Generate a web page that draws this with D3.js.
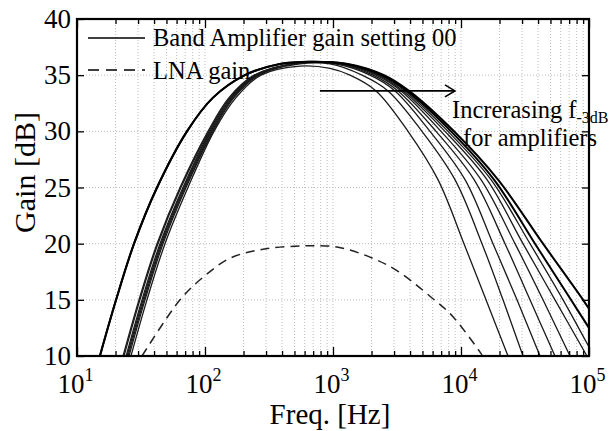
<!DOCTYPE html>
<html>
<head>
<meta charset="utf-8">
<script src="https://cdn.jsdelivr.net/npm/d3@7"></script>
<style>
body { margin: 0; background: #fff; }
svg { font-family: "Liberation Serif", "Times New Roman", serif; }
.grid line { stroke: #bdbdbd; stroke-width: 1; stroke-dasharray: 1,2; }
.axis path { display: none; }
.axis line { stroke: #000; stroke-width: 1.3; }
.axis text { font-family: "Liberation Serif", "Times New Roman", serif; fill: #000; }
.amp { fill: none; stroke: #1a1a1a; stroke-width: 1.3; }
.amp-wide { fill: none; stroke: #000; stroke-width: 2; }
.lna { fill: none; stroke: #222; stroke-width: 1.5; stroke-dasharray: 9,6; }
</style>
</head>
<body>
<svg width="609" height="431"></svg>
<script>
var yTicks = [10, 15, 20, 25, 30, 35, 40];
var xDecades = [10, 100, 1000, 10000, 100000];

// band amplifier curves, [Hz, dB]
var ampWide1 = [[15.1,10],[20.2,15],[27.9,20],[42.2,25],[72.3,30],[115.5,33],[205,35],[385,36],[661,36.2],[1310,36],[2503,35],[3925,33.6],[8815,30],[19450,25.7],[43720,20],[89800,15],[100000,14.2]];
var ampWide2 = [[15.1,10],[20.2,15],[27.9,20],[42.2,25],[72.3,30],[115.5,33],[205,35],[385,36],[661,36.2],[1264,36],[2415,35],[3785,33.6],[8360,30],[18100,25.7],[37860,20],[72300,15],[100000,12.5]];
var amp1 = [[26.4,10],[35.2,15],[48.7,20],[73.6,25],[117.6,30],[174.6,33],[273.8,35],[552,35.8],[948,35.6],[1358,35],[2168,33.6],[3855,30],[6610,25.7],[10550,20],[15680,15],[23290,10]];
var amp2 = [[25.5,10],[34.0,15],[47.0,20],[71.1,25],[115.5,30],[168.5,33],[264.1,35],[552,36],[948,36],[1686,35],[2690,33.6],[4955,30],[8970,25.7],[14590,20],[21290,15],[30510,10]];
var amp3 = [[25.0,10],[33.4,15],[46.1,20],[69.8,25],[113.5,30],[165.5,33],[259.4,35],[552,36.1],[1040,36],[1946,35],[3050,33.6],[5725,30],[10750,25.7],[17780,20],[27380,15],[41430,10]];
var amp4 = [[24.6,10],[32.8,15],[45.3,20],[68.5,25],[111.4,30],[162.5,33],[254.8,35],[552,36.1],[1094,36],[2053,35],[3220,33.6],[6380,30],[12650,25.7],[22070,20],[34590,15],[54230,10]];
var amp5 = [[24.2,10],[32.2,15],[44.5,20],[67.3,25],[109.4,30],[159.6,33],[250.3,35],[552,36.1],[1135,36],[2168,35],[3400,33.6],[6980,30],[14330,25.7],[26420,20],[43720,15],[71080,10]];
var amp6 = [[23.3,10],[31.0,15],[42.9,20],[64.9,25],[107.5,30],[156.8,33],[245.9,35],[552,36.1],[1175,36],[2249,35],[3525,33.6],[7500,30],[15960,25.7],[30510,20],[54230,15],[96390,10]];
var amp7 = [[22.9,10],[30.5,15],[42.2,20],[63.8,25],[105.5,30],[154.0,33],[241.5,35],[552,36.1],[1219,36],[2330,35],[3650,33.6],[7915,30],[17150,25.7],[34590,20],[62700,15],[100000,10.8]];

// LNA gain, [Hz, dB]
var lnaGain = [[32.2,10],[63.8,15],[96.4,17],[156.8,18.7],[284,19.5],[583,19.8],[1075,19.7],[1946,18.8],[3162,17.6],[6040,15.1],[8660,13.5],[14590,10.1]];

// arrow annotation (Hz, dB)
var arrowFrom = 790, arrowTo = 8970, arrowGain = 33.6;

var svg = d3.select("svg"),
    margin = {top: 19, right: 20, bottom: 75, left: 77},
    width = +svg.attr("width") - margin.left - margin.right,
    height = +svg.attr("height") - margin.top - margin.bottom;

var x = d3.scaleLog().domain([10, 100000]).range([0, width]),
    y = d3.scaleLinear().domain([10, 40]).range([height, 0]);

var g = svg.append("g")
    .attr("transform", "translate(" + margin.left + "," + margin.top + ")");

var allTicks = x.ticks();
var minorTicks = allTicks.filter(function(d){ return xDecades.indexOf(d) < 0; });

// grid
g.append("g").attr("class", "grid")
  .selectAll("line").data(allTicks).enter().append("line")
    .attr("x1", function(d){ return x(d); })
    .attr("x2", function(d){ return x(d); })
    .attr("y1", 0).attr("y2", height);
g.append("g").attr("class", "grid")
  .selectAll("line").data(yTicks.slice(1, -1)).enter().append("line")
    .attr("x1", 0).attr("x2", width)
    .attr("y1", function(d){ return y(d); })
    .attr("y2", function(d){ return y(d); });

// curves
var line = d3.line()
    .x(function(d){ return x(d[0]); })
    .y(function(d){ return y(d[1]); })
    .curve(d3.curveCatmullRom.alpha(0.5));

svg.append("clipPath").attr("id", "plotclip")
  .append("rect").attr("width", width).attr("height", height);

var curves = g.append("g").attr("clip-path", "url(#plotclip)");

[amp1, amp2, amp3, amp4, amp5, amp6, amp7].forEach(function(c){
  curves.append("path").attr("class", "amp").attr("d", line(c));
});
[ampWide1, ampWide2].forEach(function(c){
  curves.append("path").attr("class", "amp-wide").attr("d", line(c));
});
curves.append("path").attr("class", "lna").attr("d", line(lnaGain));

// axes with inward ticks
g.append("g").attr("class", "axis")
  .attr("transform", "translate(0," + height + ")")
  .call(d3.axisBottom(x).tickValues(minorTicks).tickSize(-5).tickFormat(""));
var xAxis = g.append("g").attr("class", "axis")
  .attr("transform", "translate(0," + height + ")")
  .call(d3.axisBottom(x).tickValues(xDecades).tickSize(-9).tickPadding(21));
g.append("g").attr("class", "axis")
  .call(d3.axisTop(x).tickValues(minorTicks).tickSize(-5).tickFormat(""));
g.append("g").attr("class", "axis")
  .call(d3.axisTop(x).tickValues(xDecades).tickSize(-9).tickFormat(""));
g.append("g").attr("class", "axis")
  .call(d3.axisLeft(y).tickValues(yTicks).tickSize(-7).tickPadding(6));
g.append("g").attr("class", "axis")
  .attr("transform", "translate(" + width + ",0)")
  .call(d3.axisRight(y).tickValues(yTicks).tickSize(-7).tickFormat(""));

g.selectAll(".axis text").attr("font-size", 27);

xAxis.selectAll(".tick text").each(function(d){
  var t = d3.select(this).text(null).attr("dy", "0.6em").attr("x", -2);
  t.append("tspan").text("10");
  t.append("tspan").attr("dy", -12).attr("font-size", 18).text(Math.round(Math.log10(d)));
});

// frame
g.append("rect")
  .attr("width", width).attr("height", height)
  .attr("fill", "none").attr("stroke", "#000").attr("stroke-width", 2.2);

// axis labels
svg.append("text")
  .attr("x", 330)
  .attr("y", 424)
  .attr("text-anchor", "middle")
  .attr("font-size", 29)
  .text("Freq. [Hz]");
svg.append("text")
  .attr("transform", "translate(35," + (margin.top + height / 2 - 15) + ") rotate(-90)")
  .attr("text-anchor", "middle")
  .attr("font-size", 30)
  .text("Gain [dB]");

// legend
var leg = g.append("g");
leg.append("line").attr("x1", 11).attr("x2", 68).attr("y1", 19).attr("y2", 19)
  .attr("stroke", "#000").attr("stroke-width", 1.6);
leg.append("text").attr("x", 76).attr("y", 27).attr("font-size", 24.5)
  .text("Band Amplifier gain setting 00");
leg.append("line").attr("x1", 11).attr("x2", 68).attr("y1", 51).attr("y2", 51)
  .attr("stroke", "#000").attr("stroke-width", 1.6).attr("stroke-dasharray", "11,7");
leg.append("text").attr("x", 76).attr("y", 60).attr("font-size", 24.5)
  .text("LNA gain");

// arrow
var ax1 = x(arrowFrom), ax2 = x(arrowTo), ay = y(arrowGain);
g.append("line").attr("x1", ax1).attr("x2", ax2).attr("y1", ay).attr("y2", ay)
  .attr("stroke", "#000").attr("stroke-width", 1.6);
g.append("path")
  .attr("d", "M" + (ax2 - 10) + "," + (ay - 6) + "L" + ax2 + "," + ay + "L" + (ax2 - 10) + "," + (ay + 6))
  .attr("fill", "none").attr("stroke", "#000").attr("stroke-width", 1.6);

var note = svg.append("text").attr("x", 452).attr("y", 118).attr("font-size", 24.5);
note.append("tspan").text("Increrasing f");
note.append("tspan").attr("font-size", 16).attr("dy", 5).text("-3dB");
svg.append("text").attr("x", 463).attr("y", 146).attr("font-size", 24.5)
  .text("for amplifiers");
</script>
</body>
</html>
